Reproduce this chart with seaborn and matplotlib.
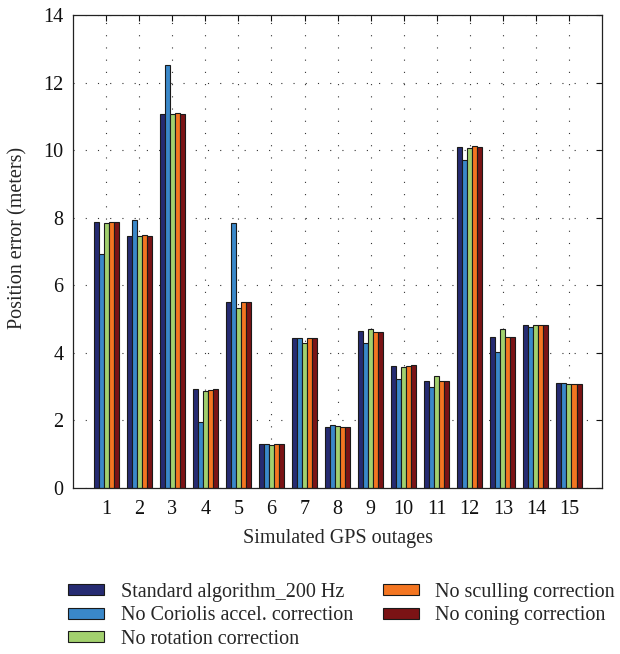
import matplotlib
matplotlib.use("Agg")
import matplotlib.pyplot as plt
import numpy as np
import pandas as pd
import seaborn as sns

outages = [str(i) for i in range(1, 16)]
methods = [
    "Standard algorithm_200 Hz",
    "No Coriolis accel. correction",
    "No rotation correction",
    "No sculling correction",
    "No coning correction",
]
standard = [7.86, 7.46, 11.06, 2.93, 5.51, 1.31, 4.45, 1.81, 4.65, 3.62, 3.15, 10.09, 4.48, 4.82, 3.10]
no_coriolis = [6.92, 7.94, 12.52, 1.96, 7.84, 1.31, 4.45, 1.86, 4.29, 3.22, 2.98, 9.71, 4.03, 4.77, 3.12]
no_rotation = [7.83, 7.46, 11.06, 2.87, 5.34, 1.26, 4.30, 1.84, 4.70, 3.59, 3.31, 10.07, 4.70, 4.82, 3.07]
no_sculling = [7.86, 7.49, 11.09, 2.90, 5.51, 1.31, 4.45, 1.81, 4.62, 3.61, 3.15, 10.12, 4.48, 4.82, 3.09]
no_coning = [7.86, 7.46, 11.06, 2.93, 5.51, 1.31, 4.45, 1.81, 4.62, 3.64, 3.15, 10.10, 4.48, 4.82, 3.09]
colors = ["#262b72", "#3a88c9", "#a2d06e", "#f37521", "#7b1315"]

series = [standard, no_coriolis, no_rotation, no_sculling, no_coning]
df = pd.DataFrame(
    [
        {"outage": o, "method": m, "error": v}
        for m, vals in zip(methods, series)
        for o, v in zip(outages, vals)
    ]
)

sns.set_style("white")
plt.rcParams["font.family"] = ["Liberation Serif", "DejaVu Serif"]
fs = 14.5

fig = plt.figure(figsize=(6.2, 6.54), dpi=100)
ax = fig.add_axes([0.118, 0.254, 0.853, 0.723])

sns.barplot(
    data=df,
    x="outage",
    y="error",
    hue="method",
    hue_order=methods,
    order=outages,
    palette=colors,
    width=0.76,
    gap=0,
    edgecolor="#1a1a1a",
    linewidth=0.8,
    saturation=1,
    ax=ax,
)

ax.set_xlim(-1, 15)
ax.set_ylim(0, 14)
ax.set_yticks(np.arange(0, 15, 2))
ax.set_axisbelow(True)
ax.grid(True, linestyle=(0, (1, 10)), color="#333333", linewidth=0.8)
ax.tick_params(direction="in", top=True, right=True, length=4, width=0.8,
               labelsize=fs, colors="#111111")
ax.tick_params(axis="x", pad=9)
ax.tick_params(axis="y", pad=7)
for spine in ax.spines.values():
    spine.set_visible(True)
    spine.set_color("#222222")
    spine.set_linewidth(0.9)
ax.set_xlabel("Simulated GPS outages", fontsize=fs, va="center")
ax.set_ylabel("Position error (meters)", fontsize=fs, va="center")
ax.xaxis.set_label_coords(0.5, -0.106)
ax.yaxis.set_label_coords(-0.105, 0.529)

handles, labels = ax.get_legend_handles_labels()
ax.get_legend().remove()
fig.legend(
    handles, labels,
    loc="upper left",
    bbox_to_anchor=(0.110, 0.109),
    ncol=2,
    frameon=False,
    fontsize=fs,
    handlelength=1.8,
    handleheight=0.45,
    handletextpad=0.8,
    columnspacing=1.5,
    labelspacing=0.23,
    borderpad=0,
    borderaxespad=0,
)

fig.savefig("out.png", dpi=100)
plt.close(fig)
